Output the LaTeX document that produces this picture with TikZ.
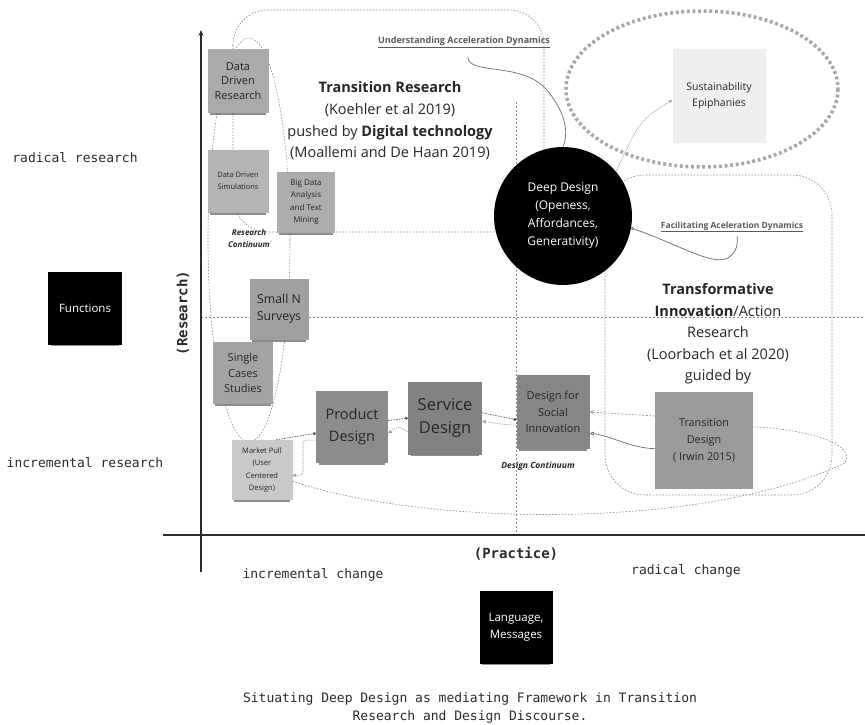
\documentclass[tikz,border=0pt]{standalone}
\usepackage{fontspec}
\setmainfont{Open Sans}
\setmonofont{DejaVu Sans Mono}
\usetikzlibrary{arrows.meta,shadows}

\definecolor{noteink}{HTML}{262626}
\definecolor{axisink}{HTML}{2B2B2B}
\definecolor{linkgray}{HTML}{6E6E6E}
\definecolor{dotgray}{HTML}{8C8C8C}
\definecolor{epigray}{HTML}{A8A8A8}
\definecolor{labelgray}{HTML}{5A5A5A}
\definecolor{ddrfill}{HTML}{AAAAAA}
\definecolor{ddsfill}{HTML}{B4B4B4}
\definecolor{bigfill}{HTML}{ADADAD}
\definecolor{smallfill}{HTML}{A0A0A0}
\definecolor{singlefill}{HTML}{A3A3A3}
\definecolor{marketfill}{HTML}{C9C9C9}
\definecolor{productfill}{HTML}{8C8C8C}
\definecolor{servicefill}{HTML}{828282}
\definecolor{dsifill}{HTML}{868686}
\definecolor{tdfill}{HTML}{9B9B9B}
\definecolor{epifill}{HTML}{EFEFEF}

\tikzset{
  note/.style={inner sep=1pt, align=center, text=noteink,
    drop shadow={shadow xshift=0pt, shadow yshift=-5pt, shadow scale=0.92, opacity=0.45, fill=black}},
  blacknote/.style={note, fill=black, text=white},
  region/.style={draw=dotgray, line width=0.6pt, dash pattern=on 1.6pt off 1.6pt},
  quadline/.style={draw=dotgray, line width=0.7pt, dash pattern=on 2pt off 2pt},
  epiring/.style={draw=epigray, line width=3.5pt, dash pattern=on 3pt off 2.6pt},
  axisline/.style={draw=axisink, line width=1.3pt},
  flowdot/.style={draw=axisink!80, line width=0.7pt, dash pattern=on 1.5pt off 1.2pt, -{Circle[length=3pt]}},
  backflow/.style={draw=dotgray, line width=0.6pt, dash pattern=on 1pt off 1pt, -{Triangle[open, length=3.5pt, width=3.5pt]}},
  linkcurve/.style={draw=linkgray, line width=0.7pt},
  monolabel/.style={text=axisink, font=\ttfamily\fontsize{13}{18}\selectfont},
  linklabel/.style={text=labelgray, font=\bfseries\fontsize{9}{11}\selectfont},
  contlabel/.style={text=noteink, align=center, font=\bfseries\itshape\fontsize{8}{12}\selectfont},
}

\begin{document}
\begin{tikzpicture}[x=1pt,y=-1pt]
\useasboundingbox (0,0) rectangle (865,725);
\fill[white] (0,0) rectangle (865,725);

\draw[region, rounded corners=35pt] (233,10) rectangle (544,232);
\draw[region, rounded corners=40pt] (605,175) rectangle (832,495);
\draw[region] (249,240) ellipse [x radius=41, y radius=202];
\draw[quadline] (201,317) -- (865,317);
\draw[quadline] (516,102) -- (516,535);
\draw[epiring] (702,89) ellipse [x radius=136, y radius=78];

\coordinate (yaxbot) at (201,572);
\coordinate (yaxtop) at (201,30);
\coordinate (xaxleft) at (163,535);
\coordinate (xaxright) at (865,535);
\draw[axisline, -{Stealth[length=6pt, width=5pt]}] (yaxbot) -- (yaxtop);
\draw[axisline] (xaxleft) -- (xaxright);

\node[monolabel] (radres) at (75,158) {radical research};
\node[monolabel] (incres) at (85,463) {incremental research};
\node[monolabel] (inccha) at (313,575) {incremental change};
\node[monolabel] (radcha) at (686,571) {radical change};
\node[monolabel, font=\ttfamily\bfseries\fontsize{14}{18}\selectfont] (practice) at (516,554) {(Practice)};
\node[monolabel, rotate=90, font=\ttfamily\bfseries\fontsize{14}{18}\selectfont] (research) at (183,313) {(Research)};
\node[monolabel, align=center] (caption) at (470,708) {Situating Deep Design as mediating Framework in Transition\\Research and Design Discourse.};

\node[align=center, text=noteink, font=\fontsize{14.5}{21.7}\selectfont] (transres) at (390,121) {\textbf{Transition Research}\\(Koehler et al 2019)\\pushed by \textbf{Digital technology}\\(Moallemi and De Haan 2019)};
\node[align=center, text=noteink, font=\fontsize{14.5}{21.5}\selectfont] (transinno) at (718,334) {\textbf{Transformative}\\\textbf{Innovation}/Action\\Research\\(Loorbach et al 2020)\\guided by};

\node[note, fill=ddrfill, minimum width=61pt, minimum height=63pt, font=\fontsize{11}{14.5}\selectfont] (ddr) at (238,81) {Data\\Driven\\Research};
\node[note, fill=ddsfill, minimum width=61pt, minimum height=63pt, font=\fontsize{7.5}{12.3}\selectfont] (dds) at (238,181) {Data Driven\\Simulations};
\node[note, fill=bigfill, minimum width=58pt, minimum height=61pt, font=\fontsize{8}{12.5}\selectfont] (bigdata) at (306,202) {Big Data\\Analysis\\and Text\\Mining};
\node[contlabel] (rescont) at (249,238) {Research\\Continuum};
\node[note, fill=smallfill, minimum width=59pt, minimum height=61pt, font=\fontsize{12.3}{17}\selectfont] (smalln) at (279,309) {Small N\\Surveys};
\node[note, fill=singlefill, minimum width=60pt, minimum height=62pt, font=\fontsize{11}{15.5}\selectfont] (single) at (243,373) {Single\\Cases\\Studies};
\node[note, fill=marketfill, minimum width=61pt, minimum height=60pt, font=\fontsize{7.5}{12.5}\selectfont] (market) at (262,470) {Market Pull\\(User\\Centered\\Design)};
\node[note, fill=productfill, minimum width=72pt, minimum height=72pt, font=\fontsize{14.5}{22}\selectfont] (product) at (352,427) {Product\\Design};
\node[note, fill=servicefill, minimum width=74pt, minimum height=73pt, font=\fontsize{16.5}{23}\selectfont] (service) at (445,418) {Service\\Design};
\node[note, fill=dsifill, minimum width=73pt, minimum height=74pt, font=\fontsize{11}{16.5}\selectfont] (dsi) at (553,412) {Design for\\Social\\Innovation};
\node[contlabel, font=\bfseries\itshape\fontsize{8.5}{12}\selectfont] (descont) at (538,466) {Design Continuum};
\node[note, fill=tdfill, minimum width=98pt, minimum height=97pt, font=\fontsize{10.8}{17}\selectfont] (td) at (704,440) {Transition\\Design\\( Irwin 2015)};
\node[note, fill=epifill, minimum width=93pt, minimum height=93pt, font=\fontsize{10.5}{16}\selectfont] (epiph) at (719,96) {Sustainability\\Epiphanies};
\node[blacknote, minimum width=74pt, minimum height=73pt, font=\fontsize{11.5}{16}\selectfont] (functions) at (85,308) {Functions};
\node[blacknote, minimum width=73pt, minimum height=73pt, font=\fontsize{11.5}{17}\selectfont] (language) at (516,627) {Language,\\Messages};

\node[circle, fill=black, text=white, minimum size=138pt, inner sep=0pt, align=center, font=\fontsize{12}{18}\selectfont] (deep) at (563,216) {Deep Design\\(Openess,\\Affordances,\\Generativity)};

\node[linklabel] (undlab) at (464,42) {\underline{Understanding Acceleration Dynamics}};
\node[linklabel, font=\bfseries\fontsize{8.5}{11}\selectfont] (faclab) at (732,227) {\underline{Facilitating Aceleration Dynamics}};

\draw[flowdot] (market.65) -- (product.190);
\draw[backflow, rounded corners=3pt] (product.200) -| (303,475) -- (market.-10);
\draw[flowdot] (product.10) -- (service.west);
\draw[backflow] (service.200) .. controls (398,426) .. (product.-10);
\draw[flowdot] (service.8) -- (dsi.192);
\draw[backflow] (dsi.200) .. controls (500,424) .. (service.-5);
\draw[backflow, draw=dotgray, dash pattern=on 2pt off 1.5pt] (td.154) -- (dsi.east);
\draw[linkcurve, -{Triangle[open, length=4pt, width=4pt]}] (td.190) .. controls (630,448) and (612,436) .. (dsi.-30);
\draw[region] (market.-20) .. controls (420,525) and (700,532) .. (845,463) .. controls (858,440) and (790,428) .. (td.15);
\draw[backflow, -{Stealth[length=4pt]}] (deep.40) .. controls (640,120) .. (epiph.185);
\draw[linkcurve] ([xshift=4pt, yshift=-6pt]undlab.south) .. controls (468,75) and (520,62) .. (545,88) .. controls (563,108) and (570,130) .. (deep.north);
\draw[linkcurve, {Circle[open, length=3pt]}-] (deep.-10) .. controls (680,245) and (712,266) .. (728,258) .. controls (737,252) and (738,244) .. ([xshift=5pt]faclab.south);
\end{tikzpicture}
\end{document}
